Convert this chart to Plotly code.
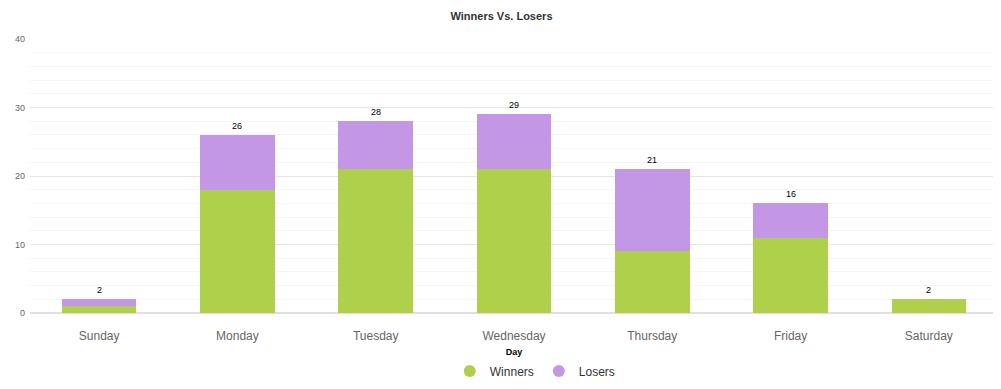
import plotly.graph_objects as go

days = ["Sunday", "Monday", "Tuesday", "Wednesday", "Thursday", "Friday", "Saturday"]
winners = [1, 18, 21, 21, 9, 11, 2]
losers = [1, 8, 7, 8, 12, 5, 0]
totals = [w + l for w, l in zip(winners, losers)]
y_ticks = [0, 10, 20, 30, 40]

GREEN = "#afd04b"
PURPLE = "#c397e6"

# page has an 8px body margin, so the figure is sized/offset to compensate
W, H = 993, 381

fig = go.Figure()
fig.add_trace(go.Bar(x=days, y=winners, name="Winners", marker=dict(color=GREEN, line=dict(width=0)),
                     showlegend=False, hoverinfo="x+y"))
fig.add_trace(go.Bar(x=days, y=losers, name="Losers", marker=dict(color=PURPLE, line=dict(width=0)),
                     showlegend=False, hoverinfo="x+y"))
# legend entries with circle symbols
fig.add_trace(go.Scatter(x=[None], y=[None], mode="markers", name="Winners",
                         marker=dict(symbol="circle", size=12, color=GREEN)))
fig.add_trace(go.Scatter(x=[None], y=[None], mode="markers", name="Losers",
                         marker=dict(symbol="circle", size=12, color=PURPLE)))

for d, t in zip(days, totals):
    fig.add_annotation(x=d, y=t, text=str(t), showarrow=False, yanchor="bottom", yshift=2,
                       font=dict(size=9, color="#000000", family="Arial, Liberation Sans"))

fig.update_layout(
    barmode="stack",
    bargap=0.46,
    width=W, height=H,
    margin=dict(l=22, r=3, t=31, b=76, autoexpand=False),
    paper_bgcolor="white", plot_bgcolor="white",
    title=dict(text="<b>Winners Vs. Losers</b>", x=0.497, xanchor="center", xref="container",
               yref="container", y=1 - 8 / H, yanchor="middle", automargin=False,
               font=dict(size=11, color="#333333", family="Arial, Liberation Sans")),
    font=dict(family="Arial, Liberation Sans"),
    legend=dict(orientation="h", x=0.522, xanchor="center", y=-0.159, yanchor="top",
                traceorder="normal",
                font=dict(size=12, color="#333333"), itemsizing="constant", itemwidth=30),
    xaxis=dict(
        title=dict(text="<b>Day</b>", font=dict(size=9, color="#000000"), standoff=6),
        tickfont=dict(size=12, color="#666666"),
        showgrid=False, showline=False, zeroline=False, automargin=False,
        ticks="", ticklabelstandoff=14,
    ),
    yaxis=dict(
        range=[0, 40], tickvals=y_ticks, ticktext=[str(v) for v in y_ticks],
        tickfont=dict(size=9, color="#666666"), automargin=False,
        showgrid=True, gridcolor="#e6e6e6", gridwidth=1,
        zeroline=True, zerolinecolor="#e0e0e0", zerolinewidth=2,
        showline=False, ticks="", ticklabelstandoff=4,
        minor=dict(dtick=2, showgrid=True, gridcolor="#f5f5f5", gridwidth=1),
    ),
)

fig.write_html("out.html")
